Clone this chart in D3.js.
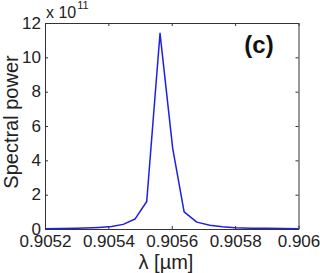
<!DOCTYPE html>
<html>
<head>
<meta charset="utf-8">
<script src="https://cdn.jsdelivr.net/npm/d3@7"></script>
<style>
  body { margin: 0; background: #fff; }
  svg { display: block; font-family: Arial, 'Liberation Sans', sans-serif; }
</style>
</head>
<body>
<div class="svg-container"></div>
<script>
// wavelength in um, power in units of 1e11
const lambda = [0.9052, 0.90525, 0.9053, 0.90535, 0.90537, 0.90541, 0.905447, 0.905484,
  0.905521, 0.905563, 0.905603, 0.905639, 0.905679, 0.90572, 0.90576, 0.9058,
  0.90585, 0.9059, 0.90595, 0.906]
const power = [0.02, 0.03, 0.04, 0.07, 0.09, 0.14, 0.27, 0.58,
  1.6, 11.4, 4.7, 1.0, 0.4, 0.22, 0.13, 0.08,
  0.05, 0.04, 0.03, 0.02]
const xTicks = [0.9052, 0.9054, 0.9056, 0.9058, 0.906]
const yTicks = [0, 2, 4, 6, 8, 10, 12]

const width = 320
const height = 273
const margin = { top: 23, right: 21.5, bottom: 44, left: 45 }

const svg = d3.select('.svg-container')
  .append('svg')
  .attr('width', width)
  .attr('height', height)

const xScale = d3.scaleLinear([0.9052, 0.906], [margin.left, width - margin.right])
const yScale = d3.scaleLinear([0, 12], [height - margin.bottom, margin.top])

const xAxis = d3.axisBottom(xScale).tickValues(xTicks).tickSize(-3).tickSizeOuter(0)
  .tickFormat(d3.format(''))
const yAxis = d3.axisLeft(yScale).tickValues(yTicks).tickSize(-3).tickSizeOuter(0)
  .tickPadding(4)

const gx = svg.append('g')
  .attr('transform', `translate(0, ${height - margin.bottom})`)
  .call(xAxis)
const gy = svg.append('g')
  .attr('transform', `translate(${margin.left}, 0)`)
  .call(yAxis)

// top and right ticks, no labels
const gxTop = svg.append('g')
  .attr('transform', `translate(0, ${margin.top})`)
  .call(d3.axisTop(xScale).tickValues(xTicks).tickSize(-3).tickSizeOuter(0).tickFormat(''))
const gyRight = svg.append('g')
  .attr('transform', `translate(${width - margin.right}, 0)`)
  .call(d3.axisRight(yScale).tickValues(yTicks).tickSize(-3).tickSizeOuter(0).tickFormat(''))

for (const g of [gx, gy, gxTop, gyRight]) {
  g.select('.domain').attr('stroke', '#333')
  g.selectAll('.tick line').attr('stroke', '#333')
  g.selectAll('.tick text').attr('font-size', 17).attr('fill', '#222')
    .attr('font-family', 'Arial, Liberation Sans, sans-serif')
}
gx.selectAll('.tick text').attr('dy', '0.71em').attr('y', 5.5)
gy.selectAll('.tick text').attr('dy', '0.3em')

const line = d3.line()
  .x((d, i) => xScale(lambda[i]))
  .y(d => yScale(d))

svg.append('path')
  .datum(power)
  .attr('fill', 'none')
  .attr('stroke', '#1f1fe6')
  .attr('stroke-width', 1.5)
  .attr('stroke-linejoin', 'round')
  .attr('d', line)

// exponent label
const expo = svg.append('text')
  .attr('x', margin.left + 1)
  .attr('y', 18)
  .attr('font-size', 16)
  .attr('fill', '#222')
expo.append('tspan').text('x 10')
expo.append('tspan').attr('font-size', 11).attr('dy', -9).attr('dx', 1).text('11')

svg.append('text')
  .attr('x', 259)
  .attr('y', 53)
  .attr('text-anchor', 'middle')
  .attr('font-size', 24)
  .attr('font-weight', 'bold')
  .attr('fill', '#111')
  .text('(c)')

svg.append('text')
  .attr('transform', 'translate(18, 122) rotate(-90)')
  .attr('text-anchor', 'middle')
  .attr('font-size', 20)
  .attr('fill', '#222')
  .text('Spectral power')

svg.append('text')
  .attr('x', 166)
  .attr('y', 268.5)
  .attr('text-anchor', 'middle')
  .attr('font-size', 20)
  .attr('fill', '#222')
  .text('λ [µm]')
</script>
</body>
</html>
